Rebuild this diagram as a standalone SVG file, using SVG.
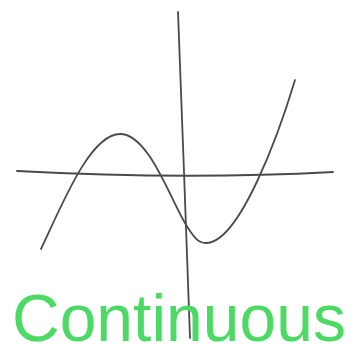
<svg xmlns="http://www.w3.org/2000/svg" width="353" height="348" viewBox="0 0 353 348">
<style>
.ln{fill:none;stroke:#4a4a4a;stroke-width:1.8;stroke-linecap:round;stroke-linejoin:round}
.lbl{font-family:"Liberation Sans",Arial,sans-serif;font-size:66px;fill:#4cd964}
</style>
<rect width="353" height="348" fill="#ffffff"/>
<g id="axes">
<path class="ln" d="M17,171 Q185,180 333,172"/>
<path class="ln" d="M178,12 L184,172 L190,338"/>
</g>
<g id="curve">
<path class="ln" d="M41,249 C62,205 90,134 120,134 C150,134 172,205 188,228 C194,237 198,243 206,243 C240,243 280,130 295,80"/>
</g>
<g id="label">
<text class="lbl" x="12" y="341">Continuous</text>
</g>
</svg>
